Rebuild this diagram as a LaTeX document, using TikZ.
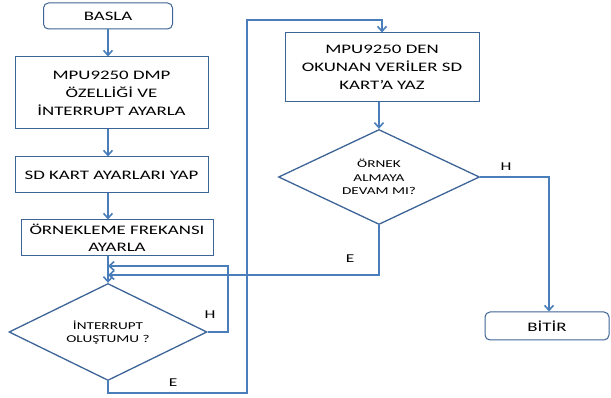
\documentclass[tikz,border=0pt]{standalone}
\usepackage{fontspec}
\setmainfont[FakeStretch=1.45]{Carlito}
\usetikzlibrary{shapes.geometric,arrows.meta}
\definecolor{boxc}{HTML}{3D6496}
\definecolor{linec}{HTML}{4A7EBB}
\begin{document}
\begin{tikzpicture}[x=1pt,y=-1pt,
  box/.style={draw=boxc,line width=1pt,fill=white,inner sep=0pt,font=\fontsize{13}{18}\selectfont,align=center},
  rbox/.style={box,rounded corners=5pt},
  dia/.style={draw=boxc,line width=1.3pt,diamond,inner sep=0pt},
  dtxt/.style={font=\fontsize{10.5}{13}\selectfont,align=center},
  conn/.style={draw=linec,line width=1.8pt},
  arr/.style={conn,-{Straight Barb[length=5pt,width=9pt,line width=1.6pt]}},
  lbl/.style={font=\fontsize{12}{14}\selectfont}]
\useasboundingbox (0,0) rectangle (611,398);
\node[rbox,minimum width=129pt,minimum height=26pt] (start) at (108,16) {BASLA};
\node[box,minimum width=193pt,minimum height=72pt] (dmp) at (111.5,93) {MPU9250 DMP\\ÖZELLİĞİ VE\\İNTERRUPT AYARLA};
\node[box,minimum width=193pt,minimum height=36pt] (sd) at (111.5,175) {SD KART AYARLARI YAP};
\node[box,minimum width=192pt,minimum height=36pt,font=\fontsize{13}{16.5}\selectfont] (freq) at (117,238) {ÖRNEKLEME FREKANSI\\AYARLA};
\node[dia,minimum width=198pt,minimum height=97pt] (intr) at (108,332) {};
\node[dtxt] (intrt) at (108,333) {İNTERRUPT\\OLUŞTUMU ?};
\node[box,minimum width=194pt,minimum height=69pt] (write) at (382,67.5) {MPU9250 DEN\\OKUNAN VERİLER SD\\KART’A YAZ};
\node[dia,minimum width=201pt,minimum height=95pt] (cont) at (379,177) {};
\node[dtxt,font=\fontsize{10.5}{13.7}\selectfont] (contt) at (379,177) {ÖRNEK\\ALMAYA\\DEVAM MI?};
\node[rbox,minimum width=124pt,minimum height=28pt] (end) at (547,326) {BİTİR};
\coordinate (j1) at (108,266);
\coordinate (j2) at (108,275);
\draw[arr] (start.south) -- (dmp.north -| start.south);
\draw[arr] (dmp.south -| start.south) -- (sd.north -| start.south);
\draw[arr] (sd.south -| start.south) -- (freq.north -| start.south);
\draw[arr] (freq.south -| intr.north) -- (intr.north);
\draw[arr] (intr.east) -- (228,332) -- (228,266) -- (j1);
\draw[arr] (cont.south) -- (379,275) -- (j2);
\draw[arr] (intr.south) -- (108,393) -- (247,393) -- (247,20) -- (382,20) -- (write.north);
\draw[arr] (write.south -| cont.north) -- (cont.north);
\draw[arr] (cont.east) -- (549,177) -- (end.north -| 549,0);
\node[lbl] (h1) at (210,315) {H};
\node[lbl] (e1) at (173,383) {E};
\node[lbl] (h2) at (506,167) {H};
\node[lbl] (e2) at (350,259) {E};
\end{tikzpicture}
\end{document}
